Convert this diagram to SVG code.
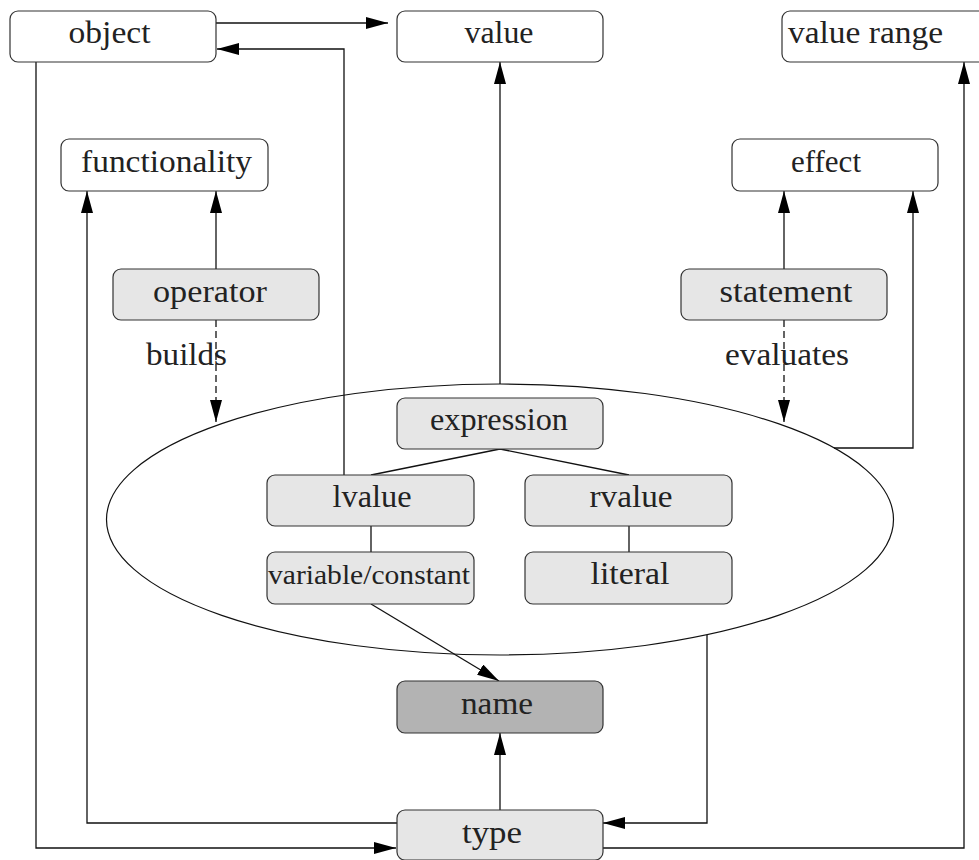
<svg xmlns="http://www.w3.org/2000/svg" width="979" height="860" viewBox="0 0 979 860">
<style>
.box{stroke:#333;stroke-width:1.2;}
.w{fill:#fff;}
.g{fill:#e6e6e6;}
.d{fill:#b3b3b3;}
text{font-family:"Liberation Serif","Times New Roman",serif;font-size:31px;fill:#222;text-anchor:middle;}
.c{fill:none;stroke:#111;stroke-width:1.3;}
.dash{stroke-dasharray:7 4;}
</style>
<defs>
<marker id="ah" markerUnits="userSpaceOnUse" markerWidth="22" markerHeight="12" refX="22" refY="6" orient="auto">
<path d="M0,0 L22,6 L0,12 z" fill="#000"/>
</marker>
</defs>
<rect width="979" height="860" fill="#fff"/>
<ellipse id="expr-ellipse" cx="500" cy="519.5" rx="393.5" ry="135.5" fill="none" stroke="#111" stroke-width="1.2"/>
<g id="connectors">
<path class="c" d="M216,23 H388" marker-end="url(#ah)"/>
<path class="c" d="M344,475 V49 H217" marker-end="url(#ah)"/>
<path class="c" d="M500,384 V62" marker-end="url(#ah)"/>
<path class="c" d="M36,62 V848 H396" marker-end="url(#ah)"/>
<path class="c" d="M397,823 H87 V191" marker-end="url(#ah)"/>
<path class="c" d="M216,269 V191" marker-end="url(#ah)"/>
<path class="c dash" d="M216,320 V422" marker-end="url(#ah)"/>
<path class="c" d="M784,269 V191" marker-end="url(#ah)"/>
<path class="c dash" d="M784,320 V422" marker-end="url(#ah)"/>
<path class="c" d="M834,448 H913 V191" marker-end="url(#ah)"/>
<path class="c" d="M500,449 L371,475 M500,449 L629,475"/>
<path class="c" d="M371,526 V552 M629,526 V552"/>
<path class="c" d="M371,604 L499,681" marker-end="url(#ah)"/>
<path class="c" d="M500,810 V733" marker-end="url(#ah)"/>
<path class="c" d="M707,635 V823 H603" marker-end="url(#ah)"/>
<path class="c" d="M603,848 H964 V62" marker-end="url(#ah)"/>
<text x="186.5" y="365" textLength="81" lengthAdjust="spacingAndGlyphs">builds</text>
<text x="787" y="365" textLength="124" lengthAdjust="spacingAndGlyphs">evaluates</text>
</g>
<g id="object"><rect class="box w" x="10" y="11" width="206" height="51" rx="8"/><text x="109.5" y="43" textLength="82" lengthAdjust="spacingAndGlyphs">object</text></g>
<g id="value"><rect class="box w" x="397" y="11" width="206" height="51" rx="8"/><text x="499" y="43" textLength="69" lengthAdjust="spacingAndGlyphs">value</text></g>
<g id="value-range"><rect class="box w" x="782" y="11" width="230" height="51" rx="8"/><text x="788" y="43" style="text-anchor:start" textLength="155" lengthAdjust="spacingAndGlyphs">value range</text></g>
<g id="functionality"><rect class="box w" x="61" y="139" width="207" height="52" rx="8"/><text x="166.5" y="172" textLength="171" lengthAdjust="spacingAndGlyphs">functionality</text></g>
<g id="effect"><rect class="box w" x="732" y="139" width="206" height="52" rx="8"/><text x="826" y="172" textLength="70" lengthAdjust="spacingAndGlyphs">effect</text></g>
<g id="operator"><rect class="box g" x="113" y="269" width="206" height="51" rx="8"/><text x="210" y="302" textLength="114" lengthAdjust="spacingAndGlyphs">operator</text></g>
<g id="statement"><rect class="box g" x="681" y="269" width="206" height="51" rx="8"/><text x="786" y="302" textLength="133" lengthAdjust="spacingAndGlyphs">statement</text></g>
<g id="expression"><rect class="box g" x="397" y="398" width="206" height="51" rx="8"/><text x="499" y="430" textLength="138" lengthAdjust="spacingAndGlyphs">expression</text></g>
<g id="lvalue"><rect class="box g" x="267" y="475" width="207" height="51" rx="8"/><text x="372" y="507" textLength="79" lengthAdjust="spacingAndGlyphs">lvalue</text></g>
<g id="rvalue"><rect class="box g" x="525" y="475" width="207" height="51" rx="8"/><text x="631" y="507" textLength="83" lengthAdjust="spacingAndGlyphs">rvalue</text></g>
<g id="variable-constant"><rect class="box g" x="267" y="552" width="207" height="52" rx="8"/><text x="369" y="584" style="font-size:27px" textLength="202" lengthAdjust="spacingAndGlyphs">variable/constant</text></g>
<g id="literal"><rect class="box g" x="525" y="552" width="207" height="52" rx="8"/><text x="630" y="584" textLength="79" lengthAdjust="spacingAndGlyphs">literal</text></g>
<g id="name"><rect class="box d" x="397" y="681" width="206" height="52" rx="8"/><text x="497" y="714" textLength="72" lengthAdjust="spacingAndGlyphs">name</text></g>
<g id="type"><rect class="box g" x="397" y="810" width="206" height="50" rx="8"/><text x="492" y="843" textLength="60" lengthAdjust="spacingAndGlyphs">type</text></g>
</svg>
